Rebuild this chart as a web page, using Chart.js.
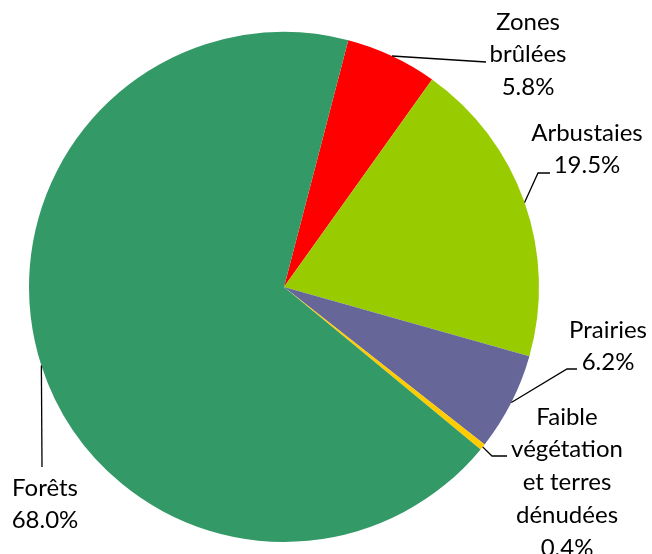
<!DOCTYPE html>
<html>
<head>
<meta charset="utf-8">
<script src="https://cdn.jsdelivr.net/npm/chart.js@4"></script>
<style>
  html, body { margin: 0; padding: 0; background: #ffffff; }
  #wrap { width: 652px; height: 554px; position: relative; }
</style>
</head>
<body>
<div id="wrap"><canvas id="c" width="652" height="554"></canvas></div>
<script>
// ---- data ----
const categories = ["Zones brûlées", "Arbustaies", "Prairies", "Faible végétation et terres dénudées", "Forêts"];
const labelLines = [["Zones", "brûlées"], ["Arbustaies"], ["Prairies"], ["Faible", "végétation", "et terres", "dénudées"], ["Forêts"]];
const shares = [5.8, 19.5, 6.2, 0.4, 68.0];
const colors = ["#FF0000", "#99CC00", "#666699", "#FFCC00", "#339966"];

// ---- label layout (text block centre, first line y, leader path via points) ----
const labelLayout = [
  { x: 528, y: 22, via: [[486, 62]] },
  { x: 587, y: 133, via: [[538, 173], [550, 173]] },
  { x: 608, y: 330, via: [[567, 369], [577, 369]] },
  { x: 567, y: 417, via: [[492, 456], [507, 456]] },
  { x: 45, y: 488, via: [[42, 467]] }
];
const lineHeight = 32.7;
const fontSpec = "24px Lato";

const labelPlugin = {
  id: "outLabels",
  afterDatasetsDraw(chart) {
    const ctx = chart.ctx;
    const meta = chart.getDatasetMeta(0);
    ctx.save();
    meta.data.forEach((arc, i) => {
      const p = arc.getProps(["x", "y", "startAngle", "endAngle", "outerRadius"], true);
      const mid = (p.startAngle + p.endAngle) / 2;
      const sx = p.x + Math.cos(mid) * p.outerRadius;
      const sy = p.y + Math.sin(mid) * p.outerRadius;
      const L = labelLayout[i];
      ctx.strokeStyle = "#000000";
      ctx.lineWidth = 1.3;
      ctx.beginPath();
      ctx.moveTo(sx, sy);
      L.via.forEach(pt => ctx.lineTo(pt[0], pt[1]));
      ctx.stroke();
      const lines = labelLines[i].concat([shares[i].toFixed(1) + "%"]);
      ctx.fillStyle = "#000000";
      ctx.font = fontSpec;
      ctx.textAlign = "center";
      ctx.textBaseline = "middle";
      lines.forEach((t, k) => ctx.fillText(t, L.x, L.y + k * lineHeight));
    });
    ctx.restore();
  }
};

new Chart(document.getElementById("c"), {
  type: "pie",
  data: {
    labels: categories,
    datasets: [{
      data: shares,
      backgroundColor: colors,
      borderWidth: 0
    }]
  },
  options: {
    responsive: false,
    animation: false,
    rotation: 14.6,
    layout: { padding: { top: 32, bottom: 12, left: 29, right: 113 } },
    plugins: { legend: { display: false }, tooltip: { enabled: false } }
  },
  plugins: [labelPlugin]
});
</script>
</body>
</html>
